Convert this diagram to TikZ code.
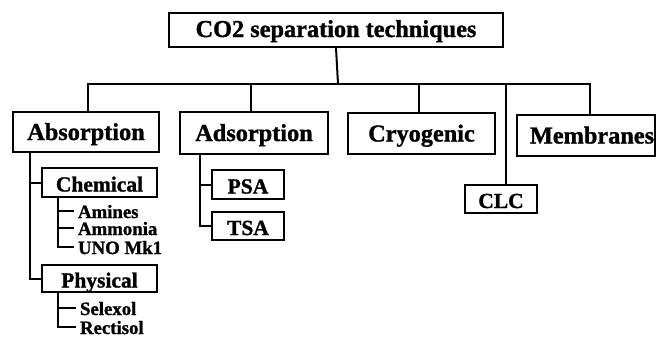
\documentclass[tikz,border=0pt]{standalone}
\usepackage{fontspec}
\setmainfont{Liberation Serif}[BoldFeatures={FakeBold=1.2}]
\begin{document}
\begin{tikzpicture}[x=1pt,y=-1pt,line width=2pt,
  bigfont/.style={font=\bfseries\fontsize{24.3}{26}\selectfont,text height=16pt,text depth=0pt},
  box/.style={draw,inner sep=0pt,bigfont},
  midbox/.style={draw,inner sep=0pt,font=\bfseries\fontsize{21.5}{23}\selectfont,text height=18pt,text depth=0pt},
  leaf/.style={anchor=west,inner xsep=3pt,inner ysep=0pt,font=\bfseries\fontsize{18.8}{20}\selectfont,text height=14pt,text depth=0pt}]
\useasboundingbox (0,0) rectangle (656,338);
\node[box,minimum width=334pt,minimum height=34pt,text height=14pt] (top) at (336,30) {CO2 separation techniques};
\node[box,minimum width=146pt,minimum height=40pt] (abs) at (86,132) {Absorption};
\node[box,minimum width=148pt,minimum height=42pt] (ads) at (254,133) {Adsorption};
\node[box,minimum width=147pt,minimum height=41pt] (cry) at (421.5,133.5) {Cryogenic};
\node[draw,inner sep=0pt,minimum width=138pt,minimum height=41pt] (mem) at (586,135.5) {};
\node[inner sep=0pt,bigfont] (memt) at (592,135.5) {Membranes};
\node[midbox,minimum width=72pt,minimum height=28pt] (clc) at (501,199) {CLC};
\node[midbox,minimum width=115pt,minimum height=29pt] (chem) at (99.5,182.5) {Chemical};
\node[midbox,minimum width=115pt,minimum height=27pt] (phy) at (99.5,278.5) {Physical};
\node[midbox,minimum width=72pt,minimum height=29pt] (psa) at (248,184.5) {PSA};
\node[midbox,minimum width=72pt,minimum height=28pt] (tsa) at (248,226) {TSA};
\node[leaf] (ami) at (74,211) {Amines};
\node[leaf] (amm) at (74,228) {Ammonia};
\node[leaf] (uno) at (74,247) {UNO Mk1};
\node[leaf] (sel) at (76,308) {Selexol};
\node[leaf] (rec) at (76,327) {Rectisol};
\coordinate (bus) at (338,84);
\draw (top.south) -- (bus);
\draw ([xshift=2pt]abs.north) |- (bus);
\draw ([xshift=4pt]mem.north) |- (bus);
\draw ([xshift=-3pt]ads.north) -- ([xshift=-3pt]ads.north |- bus);
\draw ([xshift=-2.5pt]cry.north) -- ([xshift=-2.5pt]cry.north |- bus);
\draw ([xshift=5pt]clc.north) -- ([xshift=5pt]clc.north |- bus);
\draw ([xshift=-56pt]abs.south) |- (phy.west);
\draw (chem.west) -- ++(-12,0);
\draw ([xshift=-41.5pt]chem.south) |- (uno.west);
\draw (ami.west) -- ++(-16,0);
\draw (amm.west) -- ++(-16,0);
\draw ([xshift=-41.5pt]phy.south) |- (rec.west);
\draw (sel.west) -- ++(-18,0);
\draw ([xshift=-54pt]ads.south) |- (tsa.west);
\draw (psa.west) -- ++(-12,0);
\end{tikzpicture}
\end{document}
